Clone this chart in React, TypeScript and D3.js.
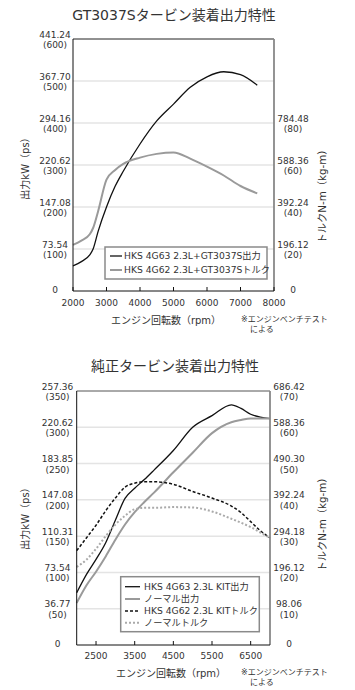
import React from "react";
import * as d3 from "d3";

// ---------- Chart 1 data (GT3037S) ----------
const rpm1 = [2000, 2250, 2500, 2600, 2750, 3000, 3250, 3500, 4000, 4500, 5000, 5500, 6000, 6500, 7000, 7500];
const power1 = [60, 70, 86, 100, 142, 200, 248, 285, 350, 405, 445, 485, 510, 522, 515, 490];
const torque1 = [22, 24, 27, 30, 38, 53, 57.5, 60.5, 63.5, 65.3, 66, 63, 59.2, 55, 50, 46.5];
const xTicks1 = [2000, 3000, 4000, 5000, 6000, 7000, 8000];
const leftTicks1 = ["0", "73.54|(100)", "147.08|(200)", "220.62|(300)", "294.16|(400)", "367.70|(500)", "441.24|(600)"];
const leftVals1 = [0, 100, 200, 300, 400, 500, 600];
const rightTicks1 = ["0", "196.12|(20)", "392.24|(40)", "588.36|(60)", "784.48|(80)"];
const rightVals1 = [0, 20, 40, 60, 80];
const legend1 = ["HKS 4G63 2.3L+GT3037S出力", "HKS 4G62 2.3L+GT3037Sトルク"];

// ---------- Chart 2 data (純正) ----------
const rpm2 = [2000, 2250, 2500, 2750, 3000, 3250, 3500, 3750, 4000, 4500, 5000, 5500, 6000, 6250, 6500, 6750, 7000];
const kitPower = [72, 97, 118, 141, 172, 202, 216, 228, 241, 268, 300, 316, 331, 326, 318, 314, 312];
const normPower = [58, 82, 101, 122, 145, 166, 183, 197, 210, 238, 265, 292, 307, 310, 312, 312, 312];
const kitTorque = [26, 29.5, 33, 37, 40.5, 43.5, 44.6, 45, 45, 44.3, 42.3, 40.5, 38.3, 36.5, 34, 31.5, 29.5];
const normTorque = [21.5, 23.5, 26.5, 30, 33.2, 35.6, 37.4, 37.8, 37.8, 38, 37.9, 36.8, 34.8, 33.7, 32.5, 31, 29.5];
const xTicks2 = [2500, 3500, 4500, 5500, 6500];
const leftTicks2 = ["0", "36.77|(50)", "73.54|(100)", "110.31|(150)", "147.08|(200)", "183.85|(250)", "220.62|(300)", "257.36|(350)"];
const leftVals2 = [0, 50, 100, 150, 200, 250, 300, 350];
const rightTicks2 = ["0", "98.06|(10)", "196.12|(20)", "294.18|(30)", "392.24|(40)", "490.30|(50)", "588.36|(60)", "686.42|(70)"];
const rightVals2 = [0, 10, 20, 30, 40, 50, 60, 70];
const legend2 = ["HKS 4G63 2.3L KIT出力", "ノーマル出力", "HKS 4G62 2.3L KITトルク", "ノーマルトルク"];

const FONT = "'DejaVu Sans', 'Noto Sans CJK JP', sans-serif";
const TXT = "#333";
const GRAY = "#9a9a9a";

type Series = { x: number[]; y: number[]; axis: "L" | "R"; color: string; width: number; dash?: string };

function TwoLine({ x, y, label }: { x: number; y: number; label: string }) {
  const parts = label.split("|");
  if (parts.length === 1) {
    return (
      <text x={x} y={y + 2} textAnchor="middle" fontSize={9} fill={TXT} fontFamily={FONT}>
        {parts[0]}
      </text>
    );
  }
  return (
    <g>
      <text x={x} y={y - 1.5} textAnchor="middle" fontSize={9} fill={TXT} fontFamily={FONT}>{parts[0]}</text>
      <text x={x} y={y + 9} textAnchor="middle" fontSize={9} fill={TXT} fontFamily={FONT}>{parts[1]}</text>
    </g>
  );
}

function Chart(props: {
  title: string; titleY: number; titleX: number;
  left: number; right: number; top: number; bottom: number;
  xDomain: [number, number]; lDomain: [number, number]; rDomain: [number, number];
  xTicks: number[]; leftVals: number[]; leftTicks: string[]; rightVals: number[]; rightTicks: string[];
  gridVals: number[];
  series: Series[];
  legend: string[]; legendBox: [number, number, number, number]; legendRows: number[];
  legendLineX: [number, number]; legendTextX: number;
  leftLabelX: number; rightLabelX: number; xLabelY: number;
  xTitleX: number; xTitleY: number; lTitleY: number; rTitleY: number; noteY: number;
  topColor: string;
}) {
  const p = props;
  const x = d3.scaleLinear().domain(p.xDomain).range([p.left, p.right]);
  const yl = d3.scaleLinear().domain(p.lDomain).range([p.bottom, p.top]);
  const yr = d3.scaleLinear().domain(p.rDomain).range([p.bottom, p.top]);
  return (
    <g>
      <text x={p.titleX} y={p.titleY + 5} textAnchor="middle" fontSize={14} fill={TXT} fontFamily={FONT}>
        {p.title}
      </text>
      {p.gridVals.map((v) => (
        <line key={"g" + v} x1={p.left} x2={p.right} y1={yl(v)} y2={yl(v)} stroke="#e4e4e4" strokeWidth={1.5} />
      ))}
      {p.series.map((s, i) => {
        const sc = s.axis === "L" ? yl : yr;
        const gen = d3
          .line<number>()
          .x((_, j) => x(s.x[j]))
          .y((d) => sc(d))
          .curve(d3.curveMonotoneX);
        return (
          <path key={"s" + i} d={gen(s.y) || ""} fill="none" stroke={s.color} strokeWidth={s.width} strokeDasharray={s.dash} />
        );
      })}
      {/* frame */}
      <line x1={p.left} x2={p.right} y1={p.top} y2={p.top} stroke={p.topColor} strokeWidth={1} />
      <line x1={p.right} x2={p.right} y1={p.top} y2={p.bottom} stroke="#888" strokeWidth={1.8} />
      <line x1={p.left} x2={p.left} y1={p.top} y2={p.bottom} stroke="#111" strokeWidth={1} />
      <line x1={p.left} x2={p.right} y1={p.bottom} y2={p.bottom} stroke="#111" strokeWidth={1} />
      {p.xTicks.map((t) => (
        <g key={"xt" + t}>
          <line x1={x(t)} x2={x(t)} y1={p.bottom} y2={p.bottom - 4} stroke="#111" strokeWidth={1} />
          <text x={x(t)} y={p.xLabelY + 3.5} textAnchor="middle" fontSize={9} fill={TXT} fontFamily={FONT}>
            {t}
          </text>
        </g>
      ))}
      {p.leftVals.map((v, i) => (
        <TwoLine key={"l" + v} x={p.leftLabelX} y={yl(v)} label={p.leftTicks[i]} />
      ))}
      {p.rightVals.map((v, i) => (
        <TwoLine key={"r" + v} x={p.rightLabelX} y={yr(v)} label={p.rightTicks[i]} />
      ))}
      {/* legend */}
      <rect
        x={p.legendBox[0]} y={p.legendBox[1]} width={p.legendBox[2] - p.legendBox[0]} height={p.legendBox[3] - p.legendBox[1]}
        fill="#fff" stroke="#8a8a8a" strokeWidth={1.5}
      />
      {p.legend.map((l, i) => {
        const s = p.series[i];
        const ry = p.legendRows[i];
        return (
          <g key={"lg" + i}>
            <line x1={p.legendLineX[0]} x2={p.legendLineX[1]} y1={ry} y2={ry} stroke={s.color} strokeWidth={s.width} strokeDasharray={s.dash} />
            <text x={p.legendTextX} y={ry + 3.3} fontSize={9.2} fill={TXT} fontFamily={FONT}>{l}</text>
          </g>
        );
      })}
      {/* axis titles */}
      <text x={p.xTitleX} y={p.xTitleY + 4} textAnchor="middle" fontSize={10} fill={TXT} fontFamily={FONT}>
        エンジン回転数（rpm）
      </text>
      <text transform={`translate(${25},${p.lTitleY}) rotate(-90)`} y={4} textAnchor="middle" fontSize={10} fill={TXT} fontFamily={FONT}>
        出力kW（ps）
      </text>
      <text transform={`translate(${322},${p.rTitleY}) rotate(-90)`} y={4} textAnchor="middle" fontSize={10.3} fill={TXT} fontFamily={FONT}>
        トルクN-m（kg-m）
      </text>
      <text x={241} y={p.noteY + 3} fontSize={8} fill={TXT} fontFamily={FONT}>※エンジンベンチテスト</text>
      <text x={250} y={p.noteY + 13} fontSize={8} fill={TXT} fontFamily={FONT}>による</text>
    </g>
  );
}

export default function App() {
  const s1: Series[] = [
    { x: rpm1, y: power1, axis: "L", color: "#111", width: 1.3 },
    { x: rpm1, y: torque1, axis: "R", color: GRAY, width: 2 },
  ];
  const s2: Series[] = [
    { x: rpm2, y: kitPower, axis: "L", color: "#111", width: 1.3 },
    { x: rpm2, y: normPower, axis: "L", color: GRAY, width: 2 },
    { x: rpm2, y: kitTorque, axis: "R", color: "#111", width: 1.5, dash: "3,2" },
    { x: rpm2, y: normTorque, axis: "R", color: "#aaa", width: 2, dash: "2,2" },
  ];
  return (
    <svg width={355} height={690} style={{ position: "absolute", left: 0, top: 0, background: "#fff" }}>
      <rect x={0} y={0} width={355} height={690} fill="#fff" />
      <Chart
        title="GT3037Sタービン装着出力特性" titleX={174} titleY={15}
        left={73} right={274} top={39} bottom={291}
        xDomain={[2000, 8000]} lDomain={[0, 600]} rDomain={[0, 120]}
        xTicks={xTicks1} leftVals={leftVals1} leftTicks={leftTicks1} rightVals={rightVals1} rightTicks={rightTicks1}
        gridVals={[100, 200, 300, 400, 500]}
        series={s1}
        legend={legend1} legendBox={[105, 247, 267, 279]} legendRows={[256, 270]} legendLineX={[110, 122]} legendTextX={124}
        leftLabelX={55} rightLabelX={293} xLabelY={302}
        xTitleX={166} xTitleY={320} lTitleY={166} rTitleY={194} noteY={319}
        topColor="#222"
      />
      <Chart
        title="純正タービン装着出力特性" titleX={175} titleY={366}
        left={76.7} right={270} top={391} bottom={645}
        xDomain={[2000, 7000]} lDomain={[0, 350]} rDomain={[0, 70]}
        xTicks={xTicks2} leftVals={leftVals2} leftTicks={leftTicks2} rightVals={rightVals2} rightTicks={rightTicks2}
        gridVals={[50, 100, 150, 200, 250, 300]}
        series={s2}
        legend={legend2} legendBox={[120.7, 576.7, 259.3, 631.7]} legendRows={[586.7, 599, 611, 622.7]} legendLineX={[125, 140]} legendTextX={144}
        leftLabelX={57.5} rightLabelX={289} xLabelY={655}
        xTitleX={171} xTitleY={673} lTitleY={516} rTitleY={522} noteY={672}
        topColor="#555"
      />
    </svg>
  );
}
